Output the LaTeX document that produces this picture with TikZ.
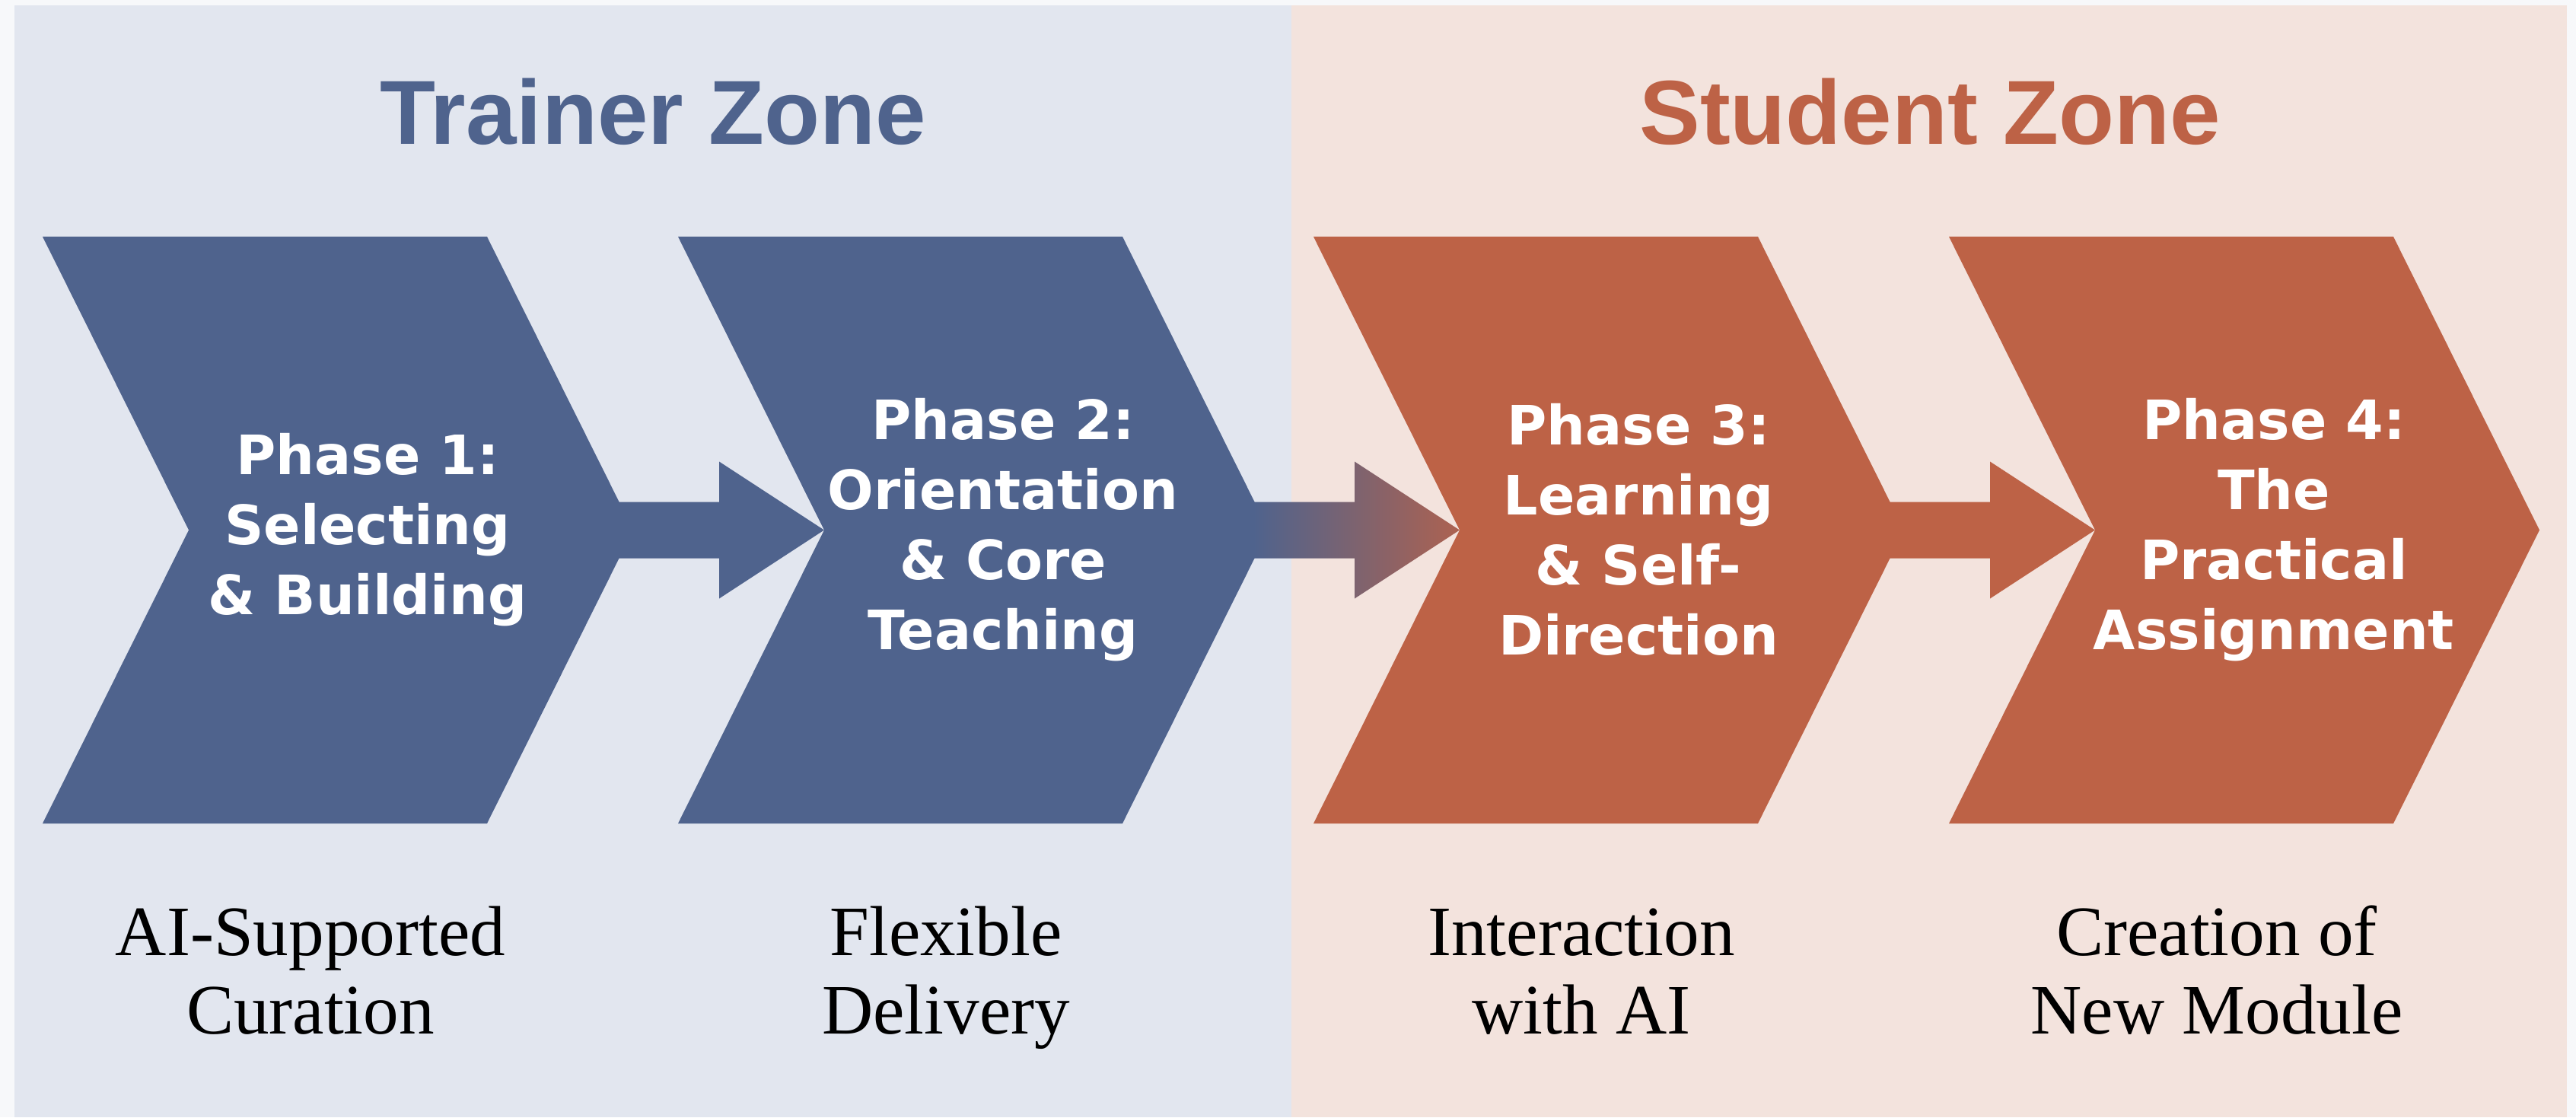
\documentclass[tikz,border=0pt]{standalone}
\usepackage{fontspec}
\setmainfont{Liberation Serif}
\newfontfamily\headfont{Liberation Sans}
\newfontfamily\phasefont{DejaVu Sans}
\usetikzlibrary{calc}

\definecolor{trainerblue}{RGB}{79,99,141}
\definecolor{studentred}{RGB}{189,98,70}
\definecolor{trainerbg}{RGB}{226,230,239}
\definecolor{studentbg}{RGB}{243,227,221}
\definecolor{pagebg}{RGB}{247,248,250}

\tikzset{
  zonetitle/.style={font=\headfont\bfseries\fontsize{34}{40}\selectfont, anchor=base},
  phasetext/.style={font=\phasefont\bfseries\fontsize{20.3}{26.2}\selectfont, text=white, align=center},
  captext/.style={font=\fontsize{26.5}{29.3}\selectfont, align=center, anchor=base}
}

% fat arrow from the tip of one chevron to the notch of the next
\newcommand{\phasearrow}[2]{($(tip#1)+(-0.2,0.37)$) -- ($(notch#2)+(-1.38,0.37)$) -- ($(notch#2)+(-1.38,0.9)$) -- (notch#2) -- ($(notch#2)+(-1.38,-0.9)$) -- ($(notch#2)+(-1.38,-0.37)$) -- ($(tip#1)+(-0.2,-0.37)$) -- cycle}

\begin{document}
\begin{tikzpicture}
  % Background
  \useasboundingbox (0,0) rectangle (33.85,14.68);
  \fill[pagebg] (0,0) rectangle (33.85,14.68);
  \fill[trainerbg] (0.19,0) rectangle (16.97,14.61);
  \fill[studentbg] (16.97,0) rectangle (33.73,14.61);

  % Zone titles
  \node[zonetitle, text=trainerblue] (trainer) at (8.58,12.78) {Trainer Zone};
  \node[zonetitle, text=studentred] (student) at (25.36,12.78) {Student Zone};

  % Chevrons
  \foreach \i/\x/\col/\txt/\capt in {
      1/0.56/trainerblue/{Phase 1:\\Selecting\\\& Building}/{AI-Supported\\Curation},
      2/8.91/trainerblue/{Phase 2:\\Orientation\\\& Core\\Teaching}/{Flexible\\Delivery},
      3/17.26/studentred/{Phase 3:\\Learning\\\& Self-\\Direction}/{Interaction\\with AI},
      4/25.61/studentred/{Phase 4:\\The\\Practical\\Assignment}/{Creation of\\New Module}} {
    \fill[\col] (\x,11.57) -- ++(5.84,0) -- ++(1.92,-3.855) -- ++(-1.92,-3.855) -- ++(-5.84,0) -- ++(1.92,3.855) -- cycle;
    \coordinate (notch\i) at (\x+1.92,7.715);
    \coordinate (tip\i) at (\x+7.76,7.715);
    \node[phasetext] (phase\i) at (\x+4.27,7.72) {\txt};
    \node[captext] (cap\i) at (\x+3.52,1.10) {\capt};
  }

  % Arrows
  \fill[trainerblue] \phasearrow{1}{2};
  \shade[left color=trainerblue, right color=studentred!85!trainerblue] \phasearrow{2}{3};
  \fill[studentred] \phasearrow{3}{4};

\end{tikzpicture}
\end{document}
